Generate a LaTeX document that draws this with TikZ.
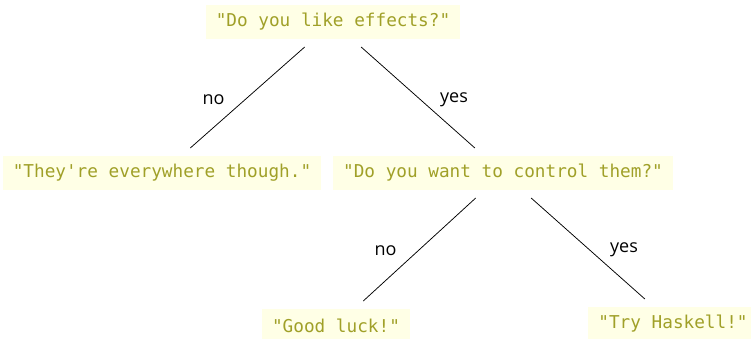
\documentclass[tikz,border=0pt]{standalone}
\usepackage{fontspec}
\setmainfont{Open Sans}
\newfontfamily\codefont{DejaVu Sans Mono}
\definecolor{codetxt}{RGB}{160,160,40}
\definecolor{codebg}{RGB}{255,255,230}
\begin{document}
\begin{tikzpicture}[x=1pt,y=-1pt,
  qbox/.style={fill=codebg, text=codetxt, font=\codefont\fontsize{17.7}{20}\selectfont,
    inner xsep=10pt, minimum height=34pt, outer sep=8pt},
  edge/.style={draw=black, line width=0.75pt},
  lbl/.style={font=\fontsize{18}{20}\selectfont, text=black}]
\useasboundingbox (0,0) rectangle (751,339);
\clip (0,0) rectangle (751,339);
\node[qbox] (q1) at (333,22) {"Do you like effects?"};
\node[qbox] (a1) at (162,173) {"They're everywhere though."};
\node[qbox] (q2) at (503,173) {"Do you want to control them?"};
\node[qbox] (a2) at (336,326) {"Good luck!"};
\node[qbox] (a3) at (673,324) {"Try Haskell!"};
\draw[edge] (q1) -- node[lbl, midway, xshift=-34pt, yshift=-2pt] (l1) {no} (a1);
\draw[edge] (q1) -- node[lbl, midway, xshift=36pt, yshift=-2pt] (l2) {yes} (q2);
\draw[edge] (q2) -- node[lbl, midway, xshift=-34pt, yshift=-1pt] (l3) {no} (a2);
\draw[edge] (q2) -- node[lbl, midway, xshift=36pt, yshift=-1pt] (l4) {yes} (a3);
\end{tikzpicture}
\end{document}
